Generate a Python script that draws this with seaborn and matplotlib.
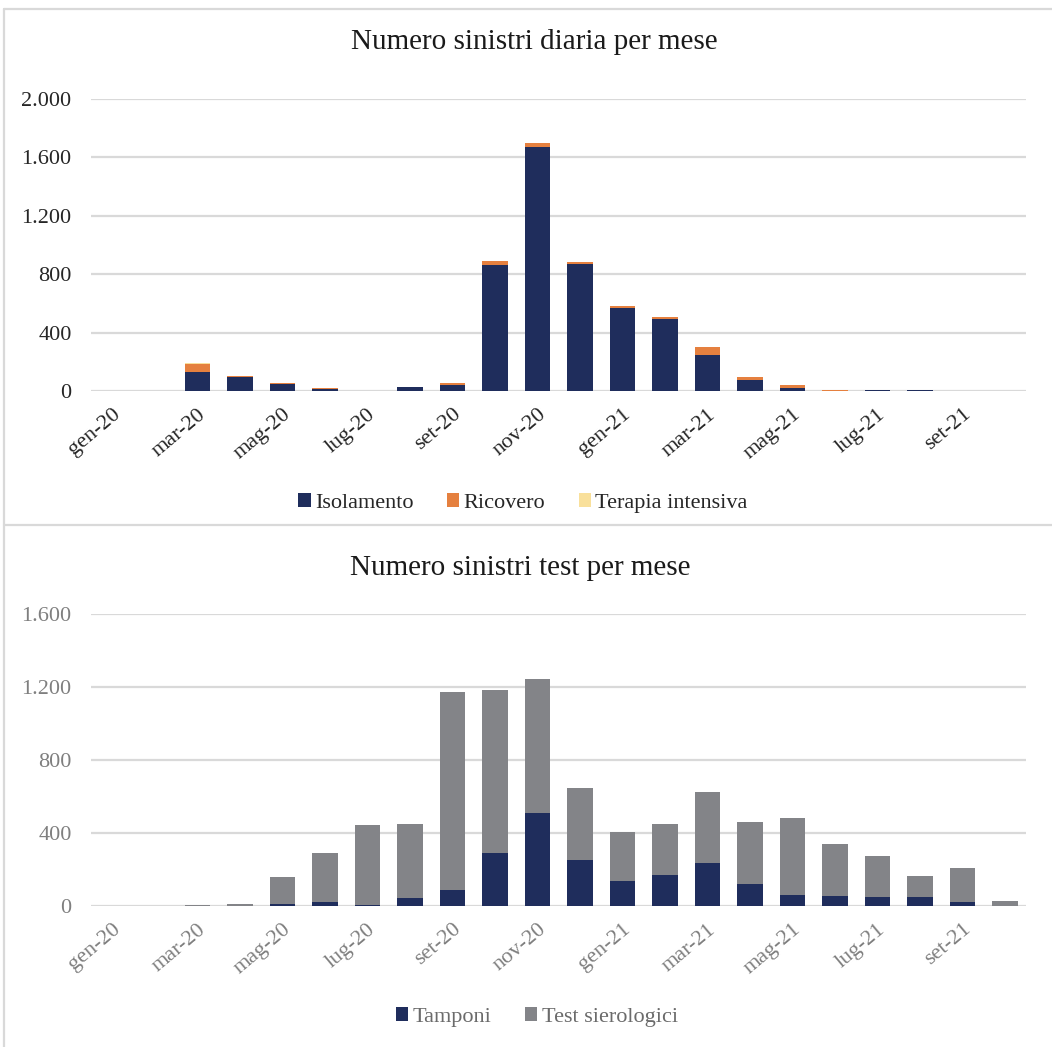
import numpy as np
import pandas as pd
import matplotlib
matplotlib.use("Agg")
import matplotlib.pyplot as plt
import seaborn as sns
from matplotlib.patches import Patch
from matplotlib.lines import Line2D

# ---------------- data ----------------
mesi = ["gen-20", "feb-20", "mar-20", "apr-20", "mag-20", "giu-20", "lug-20", "ago-20",
        "set-20", "ott-20", "nov-20", "dic-20", "gen-21", "feb-21", "mar-21", "apr-21",
        "mag-21", "giu-21", "lug-21", "ago-21", "set-21", "ott-21"]

isolamento = [0, 0, 128, 94, 47, 12, 0, 27, 43, 866, 1673, 871, 569, 494, 245, 73, 23, 3, 5, 6, 0, 0]
ricovero   = [0, 0, 59, 6, 6, 6, 0, 2, 10, 21, 25, 12, 10, 13, 56, 20, 16, 5, 0, 2, 0, 0]
terapia    = [0, 0, 2, 0, 0, 0, 0, 0, 0, 2, 3, 3, 2, 3, 2, 1, 0, 1, 0, 0, 0, 0]

tamponi          = [0, 0, 0, 0, 9, 22, 7, 46, 86, 291, 510, 254, 137, 170, 236, 121, 60, 55, 51, 51, 22, 0]
test_sierologici = [0, 0, 4, 11, 148, 267, 435, 402, 1084, 892, 733, 393, 271, 278, 387, 340, 423, 287, 225, 114, 186, 26]

yticks_top = [0, 400, 800, 1200, 1600, 2000]
ylabels_top = ["0", "400", "800", "1.200", "1.600", "2.000"]
yticks_bot = [0, 400, 800, 1200, 1600]
ylabels_bot = ["0", "400", "800", "1.200", "1.600"]

title_top = "Numero sinistri diaria per mese"
title_bot = "Numero sinistri test per mese"
leg_top = ["Isolamento", "Ricovero", "Terapia intensiva"]
leg_bot = ["Tamponi", "Test sierologici"]

# ---------------- style ----------------
sns.set_theme(style="white")
plt.rcParams["font.family"] = ["Liberation Serif", "DejaVu Serif"]

NAVY = "#1F2D5C"
ORANGE = "#E5803F"
YELLOW = "#F9E09B"
GRAY = "#838488"
GRID = "#D9D9D9"

W, H = 1052, 1047
fig = plt.figure(figsize=(W / 100, H / 100), dpi=100)

def fx(px):
    return px / W

def fy(py):
    return 1 - py / H

ax1 = fig.add_axes([fx(91), fy(391), fx(1026) - fx(91), fy(99) - fy(391)])
ax2 = fig.add_axes([fx(91), fy(906), fx(1026) - fx(91), fy(614) - fy(906)])

df1 = pd.DataFrame({"mese": mesi, "iso": isolamento, "ric": ricovero, "ter": terapia})
df1["c3"] = df1["iso"] + df1["ric"] + df1["ter"]
df1["c2"] = df1["iso"] + df1["ric"]

df2 = pd.DataFrame({"mese": mesi, "tam": tamponi, "ser": test_sierologici})
df2["tot"] = df2["tam"] + df2["ser"]

common = dict(x="mese", order=mesi, width=0.6, saturation=1, errorbar=None, linewidth=0)

sns.barplot(data=df1, y="c3", color=YELLOW, ax=ax1, **common)
sns.barplot(data=df1, y="c2", color=ORANGE, ax=ax1, **common)
sns.barplot(data=df1, y="iso", color=NAVY, ax=ax1, **common)

sns.barplot(data=df2, y="tot", color=GRAY, ax=ax2, **common)
sns.barplot(data=df2, y="tam", color=NAVY, ax=ax2, **common)

def style_axis(ax, yt, yl, ymax, tcolor):
    ax.set_xlim(-0.5, len(mesi) - 0.5)
    ax.set_ylim(0, ymax)
    ax.set_yticks(yt)
    ax.set_yticklabels(yl)
    ax.set_xticks(range(0, len(mesi), 2))
    ax.set_xticklabels(mesi[::2], rotation=40, ha="right", rotation_mode="anchor")
    ax.set_xlabel("")
    ax.set_ylabel("")
    for s in ax.spines.values():
        s.set_visible(False)
    ax.yaxis.grid(True, color=GRID, linewidth=1.6)
    ax.set_axisbelow(True)
    ax.tick_params(axis="both", length=0, labelsize=16, colors=tcolor)
    ax.tick_params(axis="y", pad=14)
    ax.tick_params(axis="x", pad=10)

style_axis(ax1, yticks_top, ylabels_top, 2000, "#262626")
style_axis(ax2, yticks_bot, ylabels_bot, 1600, "#7F7F7F")

# titles
fig.text(fx(534), fy(49), title_top, ha="center", va="baseline", fontsize=21, color="#1a1a1a")
fig.text(fx(520), fy(575), title_bot, ha="center", va="baseline", fontsize=21, color="#1a1a1a")

# legends
h1 = [Patch(facecolor=c, edgecolor="none") for c in (NAVY, ORANGE, YELLOW)]
fig.legend(h1, leg_top, loc="center", bbox_to_anchor=(fx(523), fy(503)), ncol=3,
           frameon=False, fontsize=16, handlelength=0.55, handleheight=0.55,
           handletextpad=0.2, columnspacing=1.5, labelcolor="#262626")
h2 = [Patch(facecolor=c, edgecolor="none") for c in (NAVY, GRAY)]
fig.legend(h2, leg_bot, loc="center", bbox_to_anchor=(fx(537), fy(1017)), ncol=2,
           frameon=False, fontsize=16, handlelength=0.55, handleheight=0.55,
           handletextpad=0.2, columnspacing=1.5, labelcolor="#6B6B6B")

# panel borders
for (x0, y0, x1, y1) in [(4, 9, W, 9), (4, 9, 4, H), (4, 525, W, 525)]:
    fig.add_artist(Line2D([fx(x0), fx(x1)], [fy(y0), fy(y1)], color=GRID, linewidth=1.6,
                          transform=fig.transFigure))

fig.savefig("out.png", dpi=100, facecolor="white")
